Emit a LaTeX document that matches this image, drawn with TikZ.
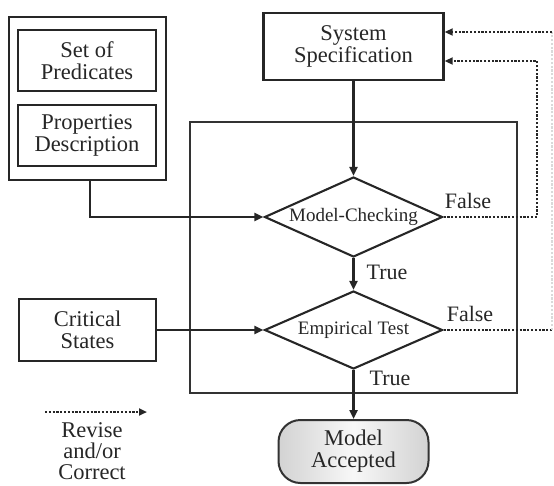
\documentclass[tikz,border=0pt]{standalone}
\usepackage{fontspec}
\setmainfont{Liberation Serif}
\usetikzlibrary{shapes.geometric,arrows.meta}
\begin{document}
\begin{tikzpicture}[x=1pt,y=-1pt,
  box/.style={draw=black!85,line width=2.4pt,inner sep=0pt,align=center,
    font={\fontsize{22.5}{22}\selectfont},text=black!85},
  frame/.style={draw=black!80,line width=1.8pt,inner sep=0pt},
  decision/.style={diamond,draw=black!85,line width=2.1pt,inner sep=0pt,aspect=2.2,
    minimum width=178pt,font={\fontsize{19}{19}\selectfont},text=black!85},
  accepted/.style={draw=black!80,line width=2pt,rounded corners=22pt,inner sep=0pt,
    minimum width=150pt,minimum height=63pt,align=center,
    shading=axis,left color=gray!35,right color=gray!35,middle color=gray!6,
    font={\fontsize{22.5}{22}\selectfont},text=black!85},
  lbl/.style={inner sep=0pt,font={\fontsize{22}{22}\selectfont},text=black!85},
  conn/.style={draw=black!85,line width=3pt,-{Triangle[length=9pt,width=8pt]}},
  link/.style={draw=black!85,line width=2.4pt,-{Triangle[length=9pt,width=8pt]}},
  revise/.style={draw=black!85,line width=2.6pt,dash pattern=on 2.2pt off 1.6pt},
  tip/.style={-{Triangle[length=8pt,width=7pt]}},
]
\useasboundingbox (0,0) rectangle (554,485);

% enclosing frame around the two checks
\node[frame,minimum width=327pt,minimum height=271pt] (frame) at (353.5,257.5) {};

% inputs on the left
\node[box,minimum width=157pt,minimum height=163pt] (group) at (87.5,98.5) {};
\node[box,minimum width=138pt,minimum height=61pt] (pred) at (87,60.5) {Set of\\Predicates};
\node[box,minimum width=138pt,minimum height=61pt] (props) at (87,135.5) {Properties\\Description};
\node[box,minimum width=137pt,minimum height=62pt] (crit) at (87.5,330) {Critical\\States};

% main flow
\node[box,minimum width=180pt,minimum height=67pt] (spec) at (353.5,46.5) {System\\Specification};
\node[decision,minimum height=80pt] (mc) at (353.5,217) {Model-Checking};
\node[decision,minimum height=78pt] (et) at (353.5,330) {Empirical Test};
\node[accepted] (acc) at (353.5,451.5) {Model\\Accepted};

\draw[conn] (spec.south) -- (mc.north);
\draw[conn] (mc.south) -- (et.north);
\draw[conn] (et.south) -- (acc.north);
\draw[link] ([xshift=2.5pt]group.south) |- (mc.west);
\draw[link] (crit.east) -- (et.west);

% outcome labels
\node[lbl] (true1) at (387,272) {True};
\node[lbl] (true2) at (390,378) {True};
\node[lbl] (false1) at (468,201) {False};
\node[lbl] (false2) at (470,314) {False};

% revision loops back to the specification
\coordinate (loopA) at (537,0);
\coordinate (edgeR) at (552,0);
\coordinate (specLow) at ([yshift=-14.5pt]spec.east);
\coordinate (specTop) at ([yshift=14.5pt]spec.east);
\draw[revise,tip] (mc.east) -- (mc.east -| loopA) |- (specLow);
\draw[revise] (et.east) -- (et.east -| edgeR);
\draw[revise,draw=black!15] (et.east -| edgeR) -- (edgeR |- specTop);
\draw[revise,tip] (edgeR |- specTop) -- (specTop);

% legend
\coordinate (legA) at (45,412);
\coordinate (legB) at (147,412);
\draw[revise,tip] (legA) -- (legB);
\node[lbl,align=center,font={\fontsize{22.5}{21}\selectfont}] (legtext) at (92,451) {Revise\\and/or\\Correct};
\end{tikzpicture}
\end{document}
